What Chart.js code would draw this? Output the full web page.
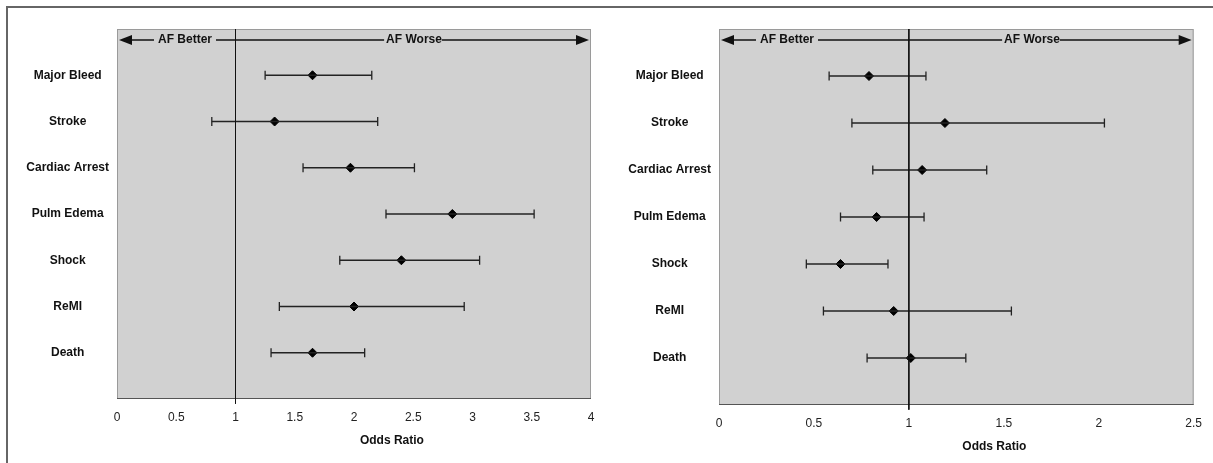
<!DOCTYPE html>
<html>
<head>
<meta charset="utf-8">
<script src="https://cdn.jsdelivr.net/npm/chart.js@4/dist/chart.umd.min.js"></script>
<style>
html, body { margin: 0; padding: 0; background: #fff; }
body { width: 1213px; height: 463px; position: relative; overflow: hidden; }
#frame { position: absolute; left: 6px; top: 6px; width: 1240px; height: 480px; border-left: 2px solid #666; border-top: 2px solid #666; }
.wrap { position: absolute; top: 0; height: 463px; }
</style>
</head>
<body>
<div id="frame"></div>
<div class="wrap" style="left:0;width:606px"><canvas id="leftChart" width="606" height="463"></canvas></div>
<div class="wrap" style="left:600px;width:613px"><canvas id="rightChart" width="613" height="463"></canvas></div>
<script>
const categories = ['Major Bleed', 'Stroke', 'Cardiac Arrest', 'Pulm Edema', 'Shock', 'ReMI', 'Death'];

// panel izquierdo
const leftOR = [1.65, 1.33, 1.97, 2.83, 2.40, 2.00, 1.65];
const leftLow = [1.25, 0.80, 1.57, 2.27, 1.88, 1.37, 1.30];
const leftHigh = [2.15, 2.20, 2.51, 3.52, 3.06, 2.93, 2.09];
const leftTicks = [0, 0.5, 1, 1.5, 2, 2.5, 3, 3.5, 4];

// panel derecho
const rightOR = [0.79, 1.19, 1.07, 0.83, 0.64, 0.92, 1.01];
const rightLow = [0.58, 0.70, 0.81, 0.64, 0.46, 0.55, 0.78];
const rightHigh = [1.09, 2.03, 1.41, 1.08, 0.89, 1.54, 1.30];
const rightTicks = [0, 0.5, 1, 1.5, 2, 2.5];

const FONT = "'Liberation Sans', Arial, sans-serif";

const panelPlugin = {
    id: 'panel',
    beforeDraw(chart, args, opts) {
        const { ctx, chartArea: a } = chart;
        ctx.save();
        ctx.fillStyle = '#d1d1d1';
        ctx.fillRect(a.left, a.top, a.right - a.left, a.bottom - a.top);
        ctx.restore();
    },
    beforeDatasetsDraw(chart, args, opts) {
        const { ctx, chartArea: a } = chart;
        ctx.save();
        ctx.strokeStyle = '#9a9a9a';
        ctx.lineWidth = 1;
        ctx.strokeRect(a.left + 0.5, a.top + 0.5, a.right - a.left - 1, a.bottom - a.top - 1);
        ctx.strokeStyle = '#555';
        ctx.beginPath();
        ctx.moveTo(a.left, a.bottom - 0.5);
        ctx.lineTo(a.right, a.bottom - 0.5);
        ctx.stroke();

        // flecha AF Better / AF Worse
        const y = a.top + 11;
        const x0 = a.left + 2, x1 = a.right - 2;
        ctx.strokeStyle = '#111';
        ctx.fillStyle = '#111';
        ctx.lineWidth = 1.5;
        ctx.beginPath();
        ctx.moveTo(x0 + 10, y);
        ctx.lineTo(x1 - 10, y);
        ctx.stroke();
        ctx.beginPath();
        ctx.moveTo(x0, y); ctx.lineTo(x0 + 13, y - 5); ctx.lineTo(x0 + 13, y + 5); ctx.closePath();
        ctx.fill();
        ctx.beginPath();
        ctx.moveTo(x1, y); ctx.lineTo(x1 - 13, y - 5); ctx.lineTo(x1 - 13, y + 5); ctx.closePath();
        ctx.fill();

        ctx.font = 'bold 12px ' + FONT;
        ctx.textBaseline = 'middle';
        ctx.textAlign = 'center';
        const bx = a.left + opts.betterX;
        const bw = ctx.measureText('AF Better').width;
        ctx.fillStyle = '#d1d1d1';
        ctx.fillRect(bx - bw / 2 - 4, y - 4, bw + 8, 8);
        const wx = a.left + opts.worseX;
        const ww = ctx.measureText('AF Worse').width;
        ctx.fillRect(wx - ww / 2 - 2, y - 4, ww + 2, 8);
        ctx.fillStyle = '#111';
        ctx.fillText('AF Better', bx, y);
        ctx.fillText('AF Worse', wx, y);

        // título del eje
        ctx.fillText('Odds Ratio', a.left + (a.right - a.left) * 0.58, a.bottom + 42);
        ctx.restore();
    }
};

function makeForest(id, or, low, high, ticks, yWidth, xHeight, padRight, worseX) {
    const datasets = [];
    // línea de referencia en OR = 1
    datasets.push({
        data: [{ x: 1, y: -1 }, { x: 1, y: 7.1 }],
        showLine: true,
        borderColor: '#111',
        borderWidth: 1,
        pointRadius: 0,
        clip: false
    });
    categories.forEach((c, i) => {
        datasets.push({
            data: [{ x: low[i], y: i }, { x: high[i], y: i }],
            showLine: true,
            borderColor: '#222',
            borderWidth: 1.5,
            pointStyle: 'line',
            rotation: 90,
            pointRadius: 4.5,
            pointBorderWidth: 1.3,
            pointBorderColor: '#222'
        });
    });
    datasets.push({
        data: or.map((v, i) => ({ x: v, y: i })),
        showLine: false,
        pointStyle: 'rectRot',
        pointRadius: 4.5,
        backgroundColor: '#000',
        borderColor: '#000',
        borderWidth: 1
    });

    return new Chart(document.getElementById(id), {
        type: 'scatter',
        data: { datasets: datasets },
        options: {
            responsive: false,
            animation: false,
            events: [],
            layout: { padding: { left: 0, right: padRight, top: 29, bottom: 0 } },
            scales: {
                x: {
                    min: 0,
                    max: ticks[ticks.length - 1],
                    afterBuildTicks: s => { s.ticks = ticks.map(v => ({ value: v })); },
                    afterFit: s => { s.height = xHeight; },
                    grid: { display: false, drawTicks: false },
                    border: { display: false },
                    ticks: {
                        padding: 11,
                        color: '#222',
                        font: { family: FONT, size: 12 },
                        callback: v => String(v)
                    }
                },
                y: {
                    min: -1,
                    max: 7,
                    reverse: true,
                    afterBuildTicks: s => { s.ticks = categories.map((c, i) => ({ value: i })); },
                    afterFit: s => { s.width = yWidth; },
                    grid: { display: false, drawTicks: false },
                    border: { display: false },
                    ticks: {
                        padding: 8,
                        crossAlign: 'center',
                        color: '#111',
                        font: { family: FONT, size: 12, weight: 'bold' },
                        callback: v => categories[v]
                    }
                }
            },
            plugins: {
                legend: { display: false },
                tooltip: { enabled: false },
                panel: { betterX: 68, worseX: worseX }
            }
        },
        plugins: [panelPlugin]
    });
}

makeForest('leftChart', leftOR, leftLow, leftHigh, leftTicks, 117, 64, 15, 297);
makeForest('rightChart', rightOR, rightLow, rightHigh, rightTicks, 119, 58, 17, 313);
</script>
</body>
</html>
